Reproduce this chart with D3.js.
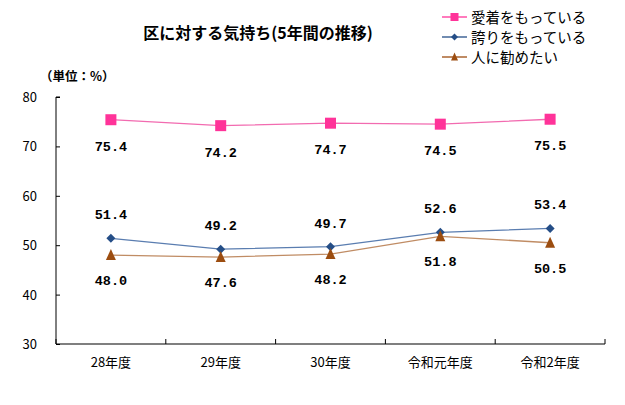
<!DOCTYPE html>
<html><head><meta charset="utf-8">
<script src="https://cdn.jsdelivr.net/npm/d3@7"></script>
<style>
html,body{margin:0;padding:0;background:#fff;}
svg{display:block;}
</style></head>
<body>
<svg id="c" width="625" height="405"></svg>
<script>
const categories = ["28年度","29年度","30年度","令和元年度","令和2年度"];
const seriesNames = ["愛着をもっている","誇りをもっている","人に勧めたい"];
const aichaku = [75.4, 74.2, 74.7, 74.5, 75.5];
const hokori = [51.4, 49.2, 49.7, 52.6, 53.4];
const susume = [48.0, 47.6, 48.2, 51.8, 50.5];
const yTicks = [30, 40, 50, 60, 70, 80];
const titleText = "区に対する気持ち(5年間の推移)";
const unitText = "（単位：%）";

(function(){
const series = [
  {name: seriesNames[0], values: aichaku, color: "#FF3399", line: "#F26BB0", shape: "square", labelDy: 31},
  {name: seriesNames[1], values: hokori, color: "#254E87", line: "#5A7DB0", shape: "diamond", labelDy: -19},
  {name: seriesNames[2], values: susume, color: "#9C4D10", line: "#C08C64", shape: "triangle", labelDy: 30}
];

const svg = d3.select("#c");
const pLeft = 56, pRight = 605, pTop = 97, pBottom = 344;
const x = d3.scaleBand().domain(categories).range([pLeft, pRight]).padding(0);
const y = d3.scaleLinear().domain([30, 80]).range([pBottom, pTop]);
const font = "'Noto Sans CJK JP', sans-serif";

svg.append("text").attr("x", 258).attr("y", 39).attr("text-anchor", "middle")
  .attr("font-family", font).attr("font-weight", "bold").attr("font-size", 16)
  .attr("fill", "#000").text(titleText);

svg.append("text").attr("x", 40).attr("y", 81)
  .attr("font-family", font).attr("font-weight", "bold").attr("font-size", 12.5)
  .attr("fill", "#000").text(unitText);

const yAxis = d3.axisRight(y).tickValues(yTicks).tickSize(4).tickFormat("");
const gy = svg.append("g").attr("transform", `translate(${pLeft},0)`).call(yAxis);
gy.select(".domain").attr("stroke", "#000").attr("d", `M4,${pTop}H0V${pBottom}`);
gy.selectAll(".tick line").attr("stroke", "#000");
yTicks.forEach(v => {
  svg.append("text").attr("x", 37).attr("y", y(v) + 5).attr("text-anchor", "end")
    .attr("font-family", font).attr("font-size", 13).attr("fill", "#000").text(v);
});

const bounds = categories.map(c => x(c)).concat([x(categories[categories.length-1]) + x.bandwidth()]);
const gx = svg.append("g");
gx.append("line").attr("x1", pLeft).attr("x2", pRight).attr("y1", pBottom).attr("y2", pBottom)
  .attr("stroke", "#000").attr("stroke-width", 1.2);
bounds.forEach(b => {
  gx.append("line").attr("x1", b).attr("x2", b).attr("y1", pBottom).attr("y2", pBottom - 5).attr("stroke", "#000");
});
categories.forEach(c => {
  gx.append("text").attr("x", x(c) + x.bandwidth()/2).attr("y", pBottom + 23).attr("text-anchor", "middle")
    .attr("font-family", font).attr("font-size", 13).attr("fill", "#000").text(c);
});

function marker(g, shape, cx, cy, color, s) {
  if (shape === "square") {
    g.append("rect").attr("x", cx - s/2).attr("y", cy - s/2).attr("width", s).attr("height", s).attr("fill", color);
  } else if (shape === "diamond") {
    const r = s/2;
    g.append("path").attr("d", `M${cx},${cy-r}L${cx+r},${cy}L${cx},${cy+r}L${cx-r},${cy}Z`).attr("fill", color);
  } else {
    const r = s/2;
    g.append("path").attr("d", `M${cx},${cy-r-1}L${cx+r},${cy+r}L${cx-r},${cy+r}Z`).attr("fill", color);
  }
}

const cx = c => x(c) + x.bandwidth()/2;
series.forEach(s => {
  const g = svg.append("g");
  const line = d3.line().x((d, i) => cx(categories[i])).y(d => y(d));
  g.append("path").datum(s.values).attr("d", line).attr("fill", "none")
    .attr("stroke", s.line).attr("stroke-width", 1.3);
  const size = s.shape === "square" ? 11 : (s.shape === "diamond" ? 9 : 10);
  s.values.forEach((v, i) => {
    marker(g, s.shape, cx(categories[i]), y(v), s.color, size);
    g.append("text").attr("x", cx(categories[i])).attr("y", y(v) + s.labelDy)
      .attr("text-anchor", "middle").attr("font-family", "'Liberation Mono', monospace")
      .attr("font-weight", "bold").attr("font-size", 13.5).attr("fill", "#000").text(v.toFixed(1));
  });
});

series.forEach((s, i) => {
  const ly = 17 + i * 20;
  const g = svg.append("g");
  g.append("line").attr("x1", 442).attr("x2", 467).attr("y1", ly).attr("y2", ly)
    .attr("stroke", s.color).attr("stroke-width", 1.3);
  marker(g, s.shape, 454.5, ly, s.color, s.shape === "square" ? 8 : 7);
  g.append("text").attr("x", 471).attr("y", ly + 5.5)
    .attr("font-family", font).attr("font-size", 14.5).attr("fill", "#000").text(s.name);
});
})();
</script>
</body></html>
